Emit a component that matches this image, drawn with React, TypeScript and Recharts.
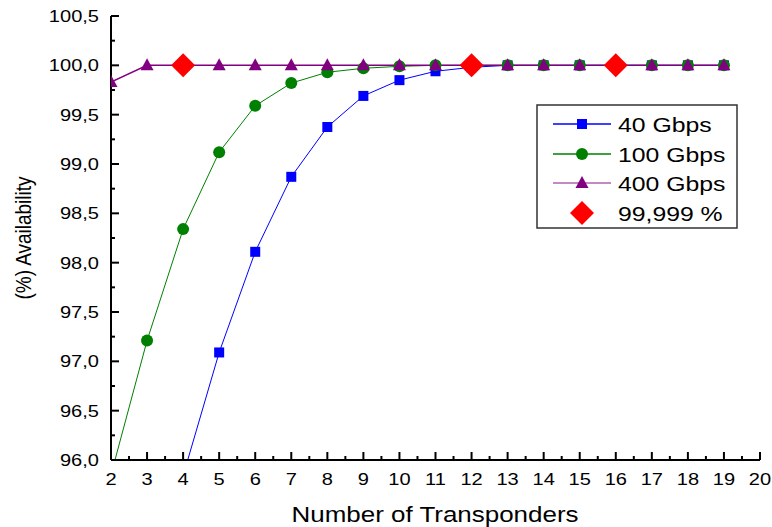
import React from 'react';
import { ComposedChart, Line, XAxis, YAxis, Legend } from 'recharts';

// ---------- data ----------
const transponders = [2, 3, 4, 5, 6, 7, 8, 9, 10, 11, 12, 13, 14, 15, 16, 17, 18, 19];
const gbps40: (number | null)[] = [null, null, 95.84, 97.09, 98.11, 98.87, 99.375, 99.69, 99.85, 99.94, 99.98, 100, 100, 100, 100, 100, 100, 100];
const gbps100: (number | null)[] = [95.85, 97.21, 98.34, 99.12, 99.59, 99.82, 99.93, 99.97, 99.99, 100, 100, 100, 100, 100, 100, 100, 100, 100];
const gbps400: (number | null)[] = [99.83, 100, 100, 100, 100, 100, 100, 100, 100, 100, 100, 100, 100, 100, 100, 100, 100, 100];
const target: (number | null)[] = [null, null, 100, null, null, null, null, null, null, null, 100, null, null, null, 100, null, null, null];

const seriesNames = ['40 Gbps', '100 Gbps', '400 Gbps', '99,999 %'];

const xMajorTicks = [2, 3, 4, 5, 6, 7, 8, 9, 10, 11, 12, 13, 14, 15, 16, 17, 18, 19, 20];
const xMinorTicks = [2.5, 3.5, 4.5, 5.5, 6.5, 7.5, 8.5, 9.5, 10.5, 11.5, 12.5, 13.5, 14.5, 15.5, 16.5, 17.5, 18.5, 19.5];
const yMajorTicks = [96, 96.5, 97, 97.5, 98, 98.5, 99, 99.5, 100, 100.5];
const yMinorTicks = [96.25, 96.75, 97.25, 97.75, 98.25, 98.75, 99.25, 99.75, 100.25];

const data = transponders.map((x, i) => ({
  x,
  g40: gbps40[i],
  g100: gbps100[i],
  g400: gbps400[i],
  target: target[i],
}));

const xTicks = [...xMajorTicks, ...xMinorTicks].sort((a, b) => a - b);
const yTicks = [...yMajorTicks, ...yMinorTicks].sort((a, b) => a - b);

// ---------- styles ----------
const FONT = '"Liberation Sans", Arial, sans-serif';
const STRETCH = 1.18;
const COLORS = { g40: '#0000FF', g100: '#008000', g400: '#800080', target: '#FF0000' };
const isMajor = (v: number) => Math.abs(v - Math.round(v)) < 1e-6;
const isMajorY = (v: number) => yMajorTicks.some((t) => Math.abs(t - v) < 1e-6);

// ---------- markers ----------
const Square = ({ cx, cy, color }: any) => <rect x={cx - 5} y={cy - 5} width={10} height={10} fill={color} />;
const Circle = ({ cx, cy, color }: any) => <circle cx={cx} cy={cy} r={6} fill={color} />;
const Triangle = ({ cx, cy, color }: any) => (
  <polygon points={`${cx},${cy - 7} ${cx + 6.5},${cy + 5} ${cx - 6.5},${cy + 5}`} fill={color} />
);
const Diamond = ({ cx, cy, color }: any) => (
  <polygon points={`${cx},${cy - 12} ${cx + 12},${cy} ${cx},${cy + 12} ${cx - 12},${cy}`} fill={color} />
);

const makeDot = (Shape: any, color: string, prefix: string) => (p: any) => {
  if (p.value == null || p.cx == null || p.cy == null || Number.isNaN(p.cy)) return <g key={`${prefix}-${p.index}`} />;
  return (
    <g key={`${prefix}-${p.index}`}>
      <Shape cx={p.cx} cy={p.cy} color={color} />
    </g>
  );
};

// ---------- ticks ----------
const BottomTick = (props: any) => {
  const { x, y, payload } = props;
  const v = payload.value;
  const major = isMajor(v);
  return (
    <g>
      <line x1={x} x2={x} y1={y} y2={y - (major ? 8 : 4)} stroke="#000" strokeWidth={2} />
      {major && (
        <text
          transform={`translate(${x},${y + 25}) scale(${STRETCH},1)`}
          textAnchor="middle"
          fontFamily={FONT}
          fontSize={17}
          fill="#000"
        >
          {v}
        </text>
      )}
    </g>
  );
};

const TopTick = (props: any) => {
  const { x, y, payload } = props;
  const major = isMajor(payload.value);
  return <line x1={x} x2={x} y1={y} y2={y + (major ? 8 : 4)} stroke="#000" strokeWidth={2} />;
};

const LeftTick = (props: any) => {
  const { x, y, payload } = props;
  const v = payload.value;
  const major = isMajorY(v);
  return (
    <g>
      <line x1={x} x2={x + (major ? 8 : 4)} y1={y} y2={y} stroke="#000" strokeWidth={2} />
      {major && (
        <text
          transform={`translate(${x - 12},${y + 6}) scale(${STRETCH},1)`}
          textAnchor="end"
          fontFamily={FONT}
          fontSize={17}
          fill="#000"
        >
          {v.toFixed(1).replace('.', ',')}
        </text>
      )}
    </g>
  );
};

const RightTick = (props: any) => {
  const { x, y, payload } = props;
  const major = isMajorY(payload.value);
  return <line x1={x} x2={x - (major ? 8 : 4)} y1={y} y2={y} stroke="#000" strokeWidth={2} />;
};

// ---------- titles ----------
const XTitle = () => (
  <text
    transform={`translate(435,522) scale(${STRETCH},1)`}
    textAnchor="middle"
    fontFamily={FONT}
    fontSize={22}
    fill="#000"
  >
    Number of Transponders
  </text>
);

const YTitle = () => (
  <text
    transform={`translate(31,238) scale(${STRETCH},1) rotate(-90)`}
    textAnchor="middle"
    fontFamily={FONT}
    fontSize={19}
    fill="#000"
  >
    (%) Availability
  </text>
);

// ---------- legend ----------
const legendShapes = [
  { Shape: Square, color: COLORS.g40, line: COLORS.g40 },
  { Shape: Circle, color: COLORS.g100, line: COLORS.g100 },
  { Shape: Triangle, color: COLORS.g400, line: '#B060B0' },
  { Shape: Diamond, color: COLORS.target, line: null as string | null },
];
const legendRowY = [20, 50, 79, 109];

const LegendBox = () => (
  <svg width={202} height={125} style={{ display: 'block' }}>
    <rect x={1} y={1} width={200} height={123} fill="#fff" stroke="#333" strokeWidth={1.5} />
    {seriesNames.map((name, i) => {
      const { Shape, color, line } = legendShapes[i];
      const cy = legendRowY[i];
      return (
        <g key={name}>
          {line && <line x1={17} x2={75} y1={cy} y2={cy} stroke={line} strokeWidth={1.5} />}
          <Shape cx={46} cy={cy} color={color} />
          <text
            transform={`translate(82,${cy + 8}) scale(${STRETCH},1)`}
            fontFamily={FONT}
            fontSize={21}
            fill="#000"
          >
            {name}
          </text>
        </g>
      );
    })}
  </svg>
);

export default function App() {
  return (
    <div style={{ position: 'absolute', left: 0, top: 0, width: 772, height: 527, background: '#fff' }}>
      <ComposedChart width={772} height={527} data={data} margin={{ top: 16, right: 12, bottom: 0, left: 0 }}>
        <XAxis
          xAxisId="bottom"
          dataKey="x"
          type="number"
          orientation="bottom"
          domain={[2, 20]}
          ticks={xTicks}
          interval={0}
          allowDataOverflow
          height={67}
          tickSize={0}
          tickMargin={0}
          tickLine={false}
          axisLine={{ stroke: '#000', strokeWidth: 2 }}
          tick={(p: any) => <BottomTick {...p} />}
          label={{ content: () => <XTitle /> }}
        />
        <XAxis
          xAxisId="top"
          dataKey="x"
          type="number"
          orientation="top"
          domain={[2, 20]}
          ticks={xTicks}
          interval={0}
          allowDataOverflow
          height={0}
          tickSize={0}
          tickMargin={0}
          tickLine={false}
          axisLine={{ stroke: '#000', strokeWidth: 2 }}
          tick={(p: any) => <TopTick {...p} />}
        />
        <YAxis
          yAxisId="left"
          type="number"
          orientation="left"
          domain={[96, 100.5]}
          ticks={yTicks}
          interval={0}
          allowDataOverflow
          width={111}
          tickSize={0}
          tickMargin={0}
          tickLine={false}
          axisLine={{ stroke: '#000', strokeWidth: 2 }}
          tick={(p: any) => <LeftTick {...p} />}
          label={{ content: () => <YTitle /> }}
        />
        <YAxis
          yAxisId="right"
          type="number"
          orientation="right"
          domain={[96, 100.5]}
          ticks={yTicks}
          interval={0}
          allowDataOverflow
          width={0}
          tickSize={0}
          tickMargin={0}
          tickLine={false}
          axisLine={{ stroke: '#000', strokeWidth: 2 }}
          tick={(p: any) => <RightTick {...p} />}
        />
        <Legend
          layout="vertical"
          align="center"
          verticalAlign="middle"
          wrapperStyle={{ left: 536, top: 104, width: 202, height: 125 }}
          content={() => <LegendBox />}
        />
        <Line
          xAxisId="bottom"
          yAxisId="left"
          name={seriesNames[0]}
          dataKey="g40"
          stroke={COLORS.g40}
          strokeWidth={1}
          dot={makeDot(Square, COLORS.g40, 'b')}
          activeDot={false}
          isAnimationActive={false}
        />
        <Line
          xAxisId="bottom"
          yAxisId="left"
          name={seriesNames[1]}
          dataKey="g100"
          stroke={COLORS.g100}
          strokeWidth={1}
          dot={makeDot(Circle, COLORS.g100, 'g')}
          activeDot={false}
          isAnimationActive={false}
        />
        <Line
          xAxisId="bottom"
          yAxisId="left"
          name={seriesNames[2]}
          dataKey="g400"
          stroke={COLORS.g400}
          strokeWidth={1.5}
          dot={makeDot(Triangle, COLORS.g400, 'p')}
          activeDot={false}
          isAnimationActive={false}
        />
        <Line
          xAxisId="bottom"
          yAxisId="left"
          name={seriesNames[3]}
          dataKey="target"
          stroke="none"
          dot={makeDot(Diamond, COLORS.target, 'r')}
          activeDot={false}
          isAnimationActive={false}
        />
      </ComposedChart>
    </div>
  );
}
